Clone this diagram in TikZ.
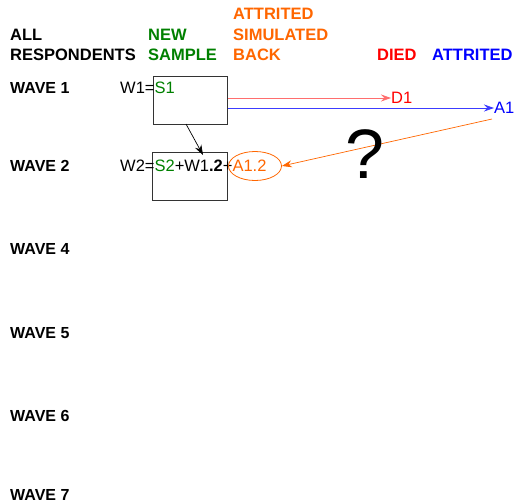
\documentclass[tikz,border=0pt]{standalone}
\usepackage{fontspec}
\setmainfont{Liberation Sans}
\usetikzlibrary{arrows.meta,shapes.geometric}
\definecolor{cgreen}{RGB}{0,128,0}
\definecolor{corange}{RGB}{255,102,0}
\definecolor{cred}{RGB}{255,0,0}
\definecolor{cblue}{RGB}{0,0,255}
\definecolor{credline}{RGB}{255,110,110}
\definecolor{cblueline}{RGB}{60,60,255}
\tikzset{
  hdr/.style={font=\fontsize{16.5}{20}\selectfont\bfseries, inner sep=0pt, anchor=west},
  wave/.style={font=\fontsize{16}{18}\selectfont\bfseries, inner sep=0pt, anchor=west},
  eq/.style={font=\fontsize{16.5}{18}\selectfont, inner sep=0pt, anchor=west},
  wbox/.style={draw=black!80, line width=0.9pt},
  arr/.style={-{Stealth[length=10pt,width=7pt]}, line width=0.7pt},
}
\begin{document}
\begin{tikzpicture}[x=1pt,y=-1pt]
\useasboundingbox (0,0) rectangle (516,503);
% headers
\node[hdr] (all) at (10,35) {ALL};
\node[hdr] (resp) at (10,55) {RESPONDENTS};
\node[hdr, text=cgreen] (new) at (148,35) {NEW};
\node[hdr, text=cgreen] (samp) at (148,55) {SAMPLE};
\node[hdr, text=corange] (sim1) at (233,14) {ATTRITED};
\node[hdr, text=corange] (sim2) at (233,35) {SIMULATED};
\node[hdr, text=corange] (sim3) at (233,55) {BACK};
\node[hdr, text=cred] (died) at (377,55) {DIED};
\node[hdr, text=cblue] (attr) at (432,55) {ATTRITED};
% waves
\node[wave] (w1) at (10,88) {WAVE 1};
\node[wave] (w2) at (10,166) {WAVE 2};
\node[wave] (w4) at (10,249) {WAVE 4};
\node[wave] (w5) at (10,333) {WAVE 5};
\node[wave] (w6) at (10,416) {WAVE 6};
\node[wave] (w7) at (10,495) {WAVE 7};
% boxes
\draw[wbox] (153,76) rectangle (227,124);
\draw[wbox] (152,152) rectangle (227,200);
\coordinate (b1s) at (186,124);
\coordinate (b2n) at (203,155);
% equations
\node[eq] (e1) at (120,88) {W1=\textcolor{cgreen}{S1}};
\node[eq] (e2) at (120,166) {W2=\textcolor{cgreen}{S2}+W1\textbf{.2}+\textcolor{corange}{A1.2}};
\node[draw=corange, ellipse, line width=0.8pt, minimum width=53pt, minimum height=29pt, inner sep=0pt] (ell) at (255,166) {};
% destinations
\node[eq, text=cred] (d1) at (391,98) {D1};
\node[eq, text=cblue] (a1) at (494,108) {A1};
\coordinate (r0) at (228,98);
\coordinate (bl0) at (228,108);
\draw[arr, credline] (r0) -- (d1.west);
\draw[arr, cblueline] (bl0) -- (a1.west);
\coordinate (o0) at (492,119);
\draw[arr, corange] (o0) -- (ell.east);
\draw[arr, black] (b1s) -- (b2n);
% question mark
\node[font=\fontsize{70}{70}\selectfont, inner sep=0pt] (q) at (365,154) {?};
\end{tikzpicture}
\end{document}
